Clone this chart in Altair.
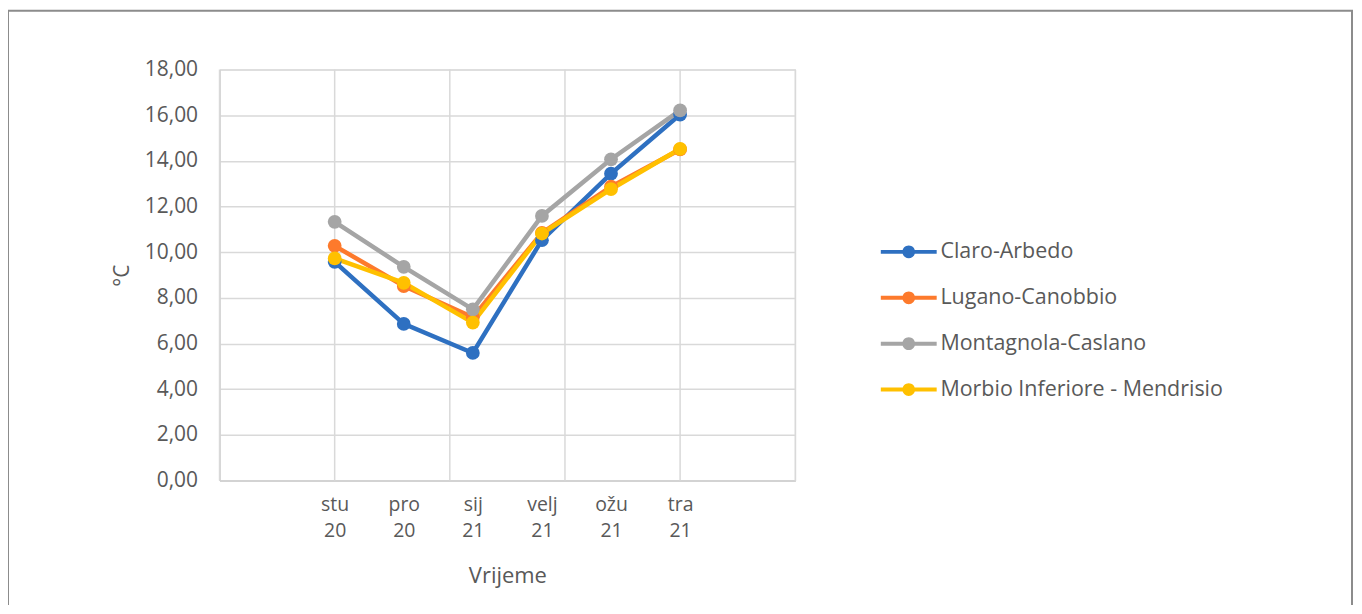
import altair as alt
import pandas as pd

months = ["stu 20", "pro 20", "sij 21", "velj 21", "ožu 21", "tra 21"]
series = ["Claro-Arbedo", "Lugano-Canobbio", "Montagnola-Caslano", "Morbio Inferiore - Mendrisio"]
claro = [9.58, 6.86, 5.59, 10.53, 13.44, 16.03]
lugano = [10.28, 8.52, 7.15, 10.85, 12.87, 14.50]
montagnola = [11.33, 9.36, 7.50, 11.59, 14.07, 16.21]
morbio = [9.73, 8.66, 6.92, 10.82, 12.76, 14.53]
colors = ["#2e70c1", "#fd7a2c", "#a5a5a5", "#ffc000"]
x_grid = [-5 / 3, 0, 5 / 3, 10 / 3, 5, 20 / 3]
y_ticks = [0, 2, 4, 6, 8, 10, 12, 14, 16, 18]

rows = []
for s, vals in zip(series, [claro, lugano, montagnola, morbio]):
    for i, (m, v) in enumerate(zip(months, vals)):
        rows.append({"series": s, "order": series.index(s), "idx": i, "month": m, "value": v})
df = pd.DataFrame(rows)
grid_df = pd.DataFrame({"g": x_grid})

FONT = "Open Sans"
TXT = "#595959"
GRID = "#d9d9d9"

label_expr = "split(" + "[" + ",".join("'" + m + "'" for m in months) + "][datum.value], ' ')"

xscale = alt.Scale(domain=[x_grid[0], x_grid[-1]], nice=False, zero=False)
yscale = alt.Scale(domain=[0, 18], nice=False)

sym = "M-6,-0.25 H1 V0.25 H-6 Z M-3.3,0 A0.8,0.8 0 1,1 -1.7,0 A0.8,0.8 0 1,1 -3.3,0 Z"
legend = alt.Legend(
    title=None,
    orient="none",
    legendX=700,
    legendY=172,
    symbolType=sym,
    symbolSize=256,
    symbolStrokeWidth=0,
    symbolOpacity=1,
    labelOffset=1,
    labelFontSize=21.5,
    labelColor=TXT,
    labelFont=FONT,
    rowPadding=23,
    labelLimit=400,
)
color_scale = alt.Scale(domain=series, range=colors)

border = alt.Chart(alt.Data(values=[{}])).mark_rect(
    fill="transparent", stroke="#8c8c8c", strokeWidth=2
).encode(
    x=alt.value(-212), x2=alt.value(1135), y=alt.value(-59), y2=alt.value(570)
)

vgrid = alt.Chart(grid_df).mark_rule(color=GRID, strokeWidth=1.5).encode(
    x=alt.X("g:Q", scale=xscale)
)

base = alt.Chart(df)
lines = base.mark_line(strokeWidth=4.5).encode(
    x=alt.X(
        "idx:Q",
        scale=xscale,
        axis=alt.Axis(
            values=list(range(len(months))),
            labelExpr=label_expr,
            grid=False,
            ticks=False,
            domainColor="#cfcfcf",
            domainWidth=1.5,
            labelPadding=15,
            labelFontSize=19.5,
            labelLineHeight=26,
            labelColor=TXT,
            labelFont=FONT,
            title="Vrijeme",
            titleFontSize=22,
            titleFontWeight="normal",
            titleColor=TXT,
            titleFont=FONT,
            titlePadding=26,
        ),
    ),
    y=alt.Y(
        "value:Q",
        scale=yscale,
        axis=alt.Axis(
            values=y_ticks,
            labelExpr="replace(format(datum.value, '.2f'), '.', ',')",
            grid=True,
            gridColor=GRID,
            gridWidth=1.5,
            ticks=False,
            domainColor="#cfcfcf",
            domainWidth=1.5,
            labelPadding=22,
            labelFontSize=21,
            labelColor=TXT,
            labelFont=FONT,
            title="°C",
            titleFontSize=21,
            titleFontWeight="normal",
            titleColor=TXT,
            titleFont=FONT,
            titlePadding=12,
        ),
    ),
    color=alt.Color("series:N", scale=color_scale, legend=legend),
    order=alt.Order("idx:Q"),
    detail="series:N",
)

points = base.mark_point(filled=True, size=190, opacity=1).encode(
    x=alt.X("idx:Q", scale=xscale),
    y=alt.Y("value:Q", scale=yscale),
    color=alt.Color("series:N", scale=color_scale, legend=legend),
    order=alt.Order("order:Q"),
)

chart = alt.layer(border, vgrid, lines, points).properties(
    width=577,
    height=412,
    autosize=alt.AutoSizeParams(type="none"),
    padding={"left": 212, "top": 61, "right": 560, "bottom": 124},
).configure_view(stroke=None).configure(font=FONT, background="white")

chart.save("out.html", embed_options={"renderer": "svg", "actions": False})
